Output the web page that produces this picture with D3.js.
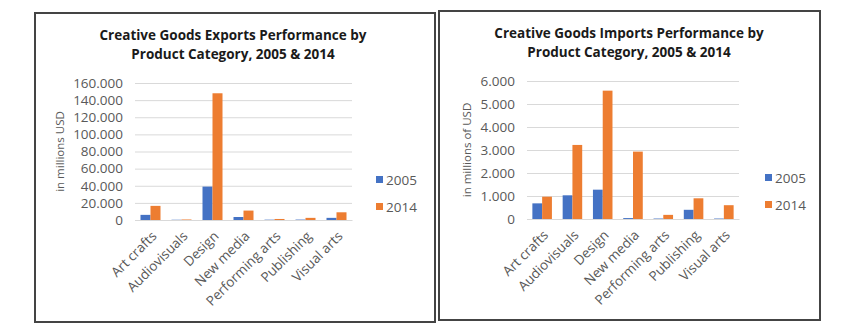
<!DOCTYPE html>
<html>
<head>
<meta charset="utf-8">
<script src="https://cdn.jsdelivr.net/npm/d3@7"></script>
<style>
  body { margin: 0; background: #fff; }
  text { font-family: "Open Sans", "Liberation Sans", sans-serif; }
</style>
</head>
<body>
<div id="chart"></div>
<script>
const categories = ['Art crafts', 'Audiovisuals', 'Design', 'New media', 'Performing arts', 'Publishing', 'Visual arts'];
const years = ['2005', '2014'];

const exports2005 = [6000, 300, 39000, 3500, 400, 500, 2500];
const exports2014 = [16500, 600, 148000, 11000, 1200, 2500, 9000];
const exportTicks = [0, 20000, 40000, 60000, 80000, 100000, 120000, 140000, 160000];

const imports2005 = [680, 1030, 1275, 40, 20, 400, 20];
const imports2014 = [970, 3220, 5580, 2930, 180, 900, 600];
const importTicks = [0, 1000, 2000, 3000, 4000, 5000, 6000];

const colors = ['#4472C4', '#ED7D31'];

const width = 864;
const height = 334;

const svg = d3.select('#chart')
  .append('svg')
  .attr('width', width)
  .attr('height', height);

// dot as thousands separator, like the original
const fmt = d3.formatLocale({decimal: ',', thousands: '.', grouping: [3], currency: ['', '']}).format(',.0f');

function panel(opt) {
  const g = svg.append('g');

  g.append('rect')
    .attr('x', opt.box[0]).attr('y', opt.box[1])
    .attr('width', opt.box[2]).attr('height', opt.box[3])
    .attr('fill', '#fff')
    .attr('stroke', '#444')
    .attr('stroke-width', 2);

  const title = g.append('text')
    .attr('x', opt.titleX)
    .attr('text-anchor', 'middle')
    .attr('font-size', 13.5)
    .attr('font-weight', 'bold')
    .attr('fill', '#1a1a1a');
  title.append('tspan').attr('x', opt.titleX).attr('y', opt.titleY).text(opt.title[0]);
  title.append('tspan').attr('x', opt.titleX).attr('y', opt.titleY + 19).text(opt.title[1]);

  const x = d3.scaleBand()
    .domain(categories)
    .range([opt.left, opt.right]);

  const x1 = d3.scaleBand()
    .domain(years)
    .range([0, x.bandwidth()])
    .paddingOuter(0.55)
    .paddingInner(0);

  const y = d3.scaleLinear()
    .domain([0, d3.max(opt.ticks)])
    .range([opt.bottom, opt.top]);

  g.append('g')
    .attr('transform', `translate(${opt.left},0)`)
    .call(d3.axisLeft(y).tickValues(opt.ticks).tickFormat(fmt)
      .tickSize(-(opt.right - opt.left)).tickPadding(12))
    .call(a => a.select('.domain').remove())
    .call(a => a.selectAll('line').attr('stroke', '#d9d9d9'))
    .call(a => a.selectAll('text').attr('font-size', 13.5).attr('fill', '#595959')
      .attr('font-family', '"Open Sans", sans-serif'));

  const rows = categories.map((c, i) => ({c, v: [opt.s1[i], opt.s2[i]]}));

  g.append('g')
    .selectAll('g')
    .data(rows)
    .join('g')
      .attr('transform', d => `translate(${x(d.c)},0)`)
    .selectAll('rect')
    .data(d => d.v.map((v, k) => ({year: years[k], v, k})))
    .join('rect')
      .attr('x', d => x1(d.year))
      .attr('y', d => y(d.v))
      .attr('width', x1.bandwidth())
      .attr('height', d => y(0) - y(d.v))
      .attr('fill', d => colors[d.k]);

  g.append('g')
    .attr('transform', `translate(0,${opt.bottom})`)
    .call(d3.axisBottom(x).tickSize(0).tickPadding(0))
    .call(a => a.select('.domain').attr('stroke', '#d9d9d9'))
    .call(a => a.selectAll('text')
      .attr('font-size', 13.5)
      .attr('fill', '#595959')
      .attr('font-family', '"Open Sans", sans-serif')
      .attr('text-anchor', 'end')
      .attr('dy', 0)
      .attr('transform', 'translate(7,17) rotate(-45)'));

  g.append('text')
    .attr('transform', `translate(${opt.yLabelX},${(opt.top + opt.bottom) / 2}) rotate(-90)`)
    .attr('text-anchor', 'middle')
    .attr('font-size', 11.5)
    .attr('fill', '#595959')
    .text(opt.yLabel);

  const legend = g.append('g')
    .selectAll('g')
    .data(years)
    .join('g')
      .attr('transform', (d, i) => `translate(${opt.legendX},${opt.legendY + i * 27})`);
  legend.append('rect')
    .attr('x', 0).attr('y', -4)
    .attr('width', 7).attr('height', 7)
    .attr('fill', (d, i) => colors[i]);
  legend.append('text')
    .attr('x', 10).attr('y', 0)
    .attr('dy', '0.35em')
    .attr('font-size', 13.5)
    .attr('fill', '#595959')
    .text(d => d);
}

panel({
  box: [35, 13, 400, 309],
  title: ['Creative Goods Exports Performance by', 'Product Category, 2005 & 2014'],
  titleX: 233, titleY: 40,
  left: 135, right: 352, top: 83, bottom: 220,
  ticks: exportTicks,
  s1: exports2005, s2: exports2014,
  yLabel: 'in millions USD', yLabelX: 64,
  legendX: 376, legendY: 180
});

panel({
  box: [439, 11, 381, 309],
  title: ['Creative Goods Imports Performance by', 'Product Category, 2005 & 2014'],
  titleX: 629, titleY: 38,
  left: 527, right: 739, top: 81, bottom: 219,
  ticks: importTicks,
  s1: imports2005, s2: imports2014,
  yLabel: 'in millions of USD', yLabelX: 471,
  legendX: 765, legendY: 178
});
</script>
</body>
</html>
